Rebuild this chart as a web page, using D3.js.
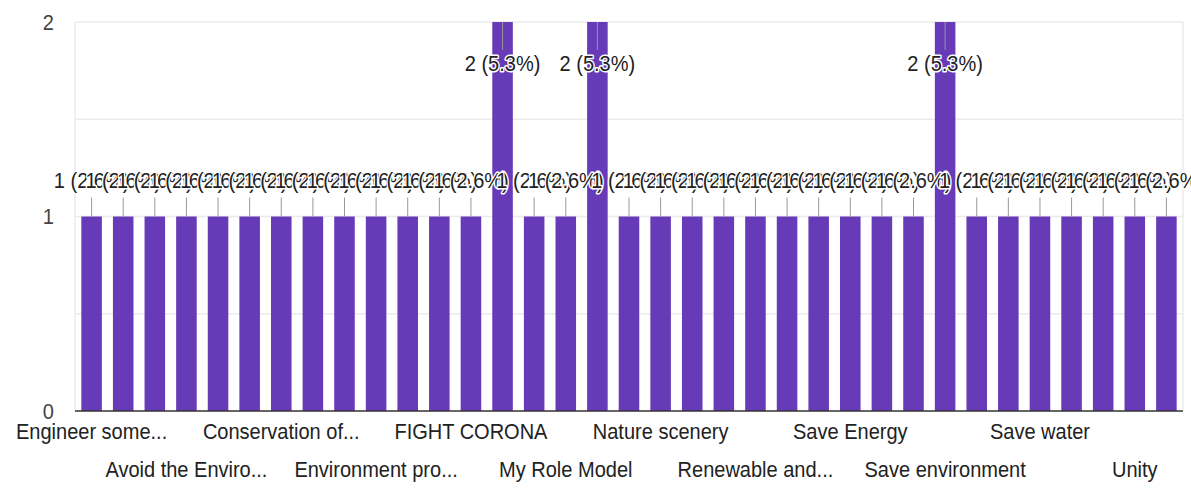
<!DOCTYPE html>
<html>
<head>
<meta charset="utf-8">
<script src="https://cdn.jsdelivr.net/npm/d3@7"></script>
<style>
  body { margin: 0; background: #fff; }
  svg { display: block; font-family: "Liberation Sans", Arial, sans-serif; }
</style>
</head>
<body>
<svg id="chart" width="1191" height="491"></svg>
<script>
// answers, in the order the form lists them. only every third name is printed
// under the axis in the picture, the others can't be read so they get a position name
var categories = [
    "Engineer some...", "Answer 2", "Answer 3",
    "Avoid the Enviro...", "Answer 5", "Answer 6",
    "Conservation of...", "Answer 8", "Answer 9",
    "Environment pro...", "Answer 11", "Answer 12",
    "FIGHT CORONA", "Answer 14", "Answer 15",
    "My Role Model", "Answer 17", "Answer 18",
    "Nature scenery", "Answer 20", "Answer 21",
    "Renewable and...", "Answer 23", "Answer 24",
    "Save Energy", "Answer 26", "Answer 27",
    "Save environment", "Answer 29", "Answer 30",
    "Save water", "Answer 32", "Answer 33",
    "Unity", "Answer 35"
];
var counts = [
    1, 1, 1, 1, 1, 1, 1, 1, 1, 1, 1, 1, 1, 2, 1, 1, 2, 1, 1, 1,
    1, 1, 1, 1, 1, 1, 1, 2, 1, 1, 1, 1, 1, 1, 1
];
var yTicks = [0, 1, 2];
var yGrid = [0.5, 1, 1.5, 2];

var total = d3.sum(counts); // 38 responses

var svg = d3.select("#chart");
// plot area edges (note: "top" would clash with window.top)
var plotLeft = 75, plotRight = 1183, plotTop = 22, plotBottom = 411;
var squash = 0.91; // text in the picture is a bit narrower than plain Arial

var x = d3.scaleBand()
    .domain(categories)
    .range([plotLeft, plotRight])
    .paddingInner(0.35)
    .paddingOuter(0.2);

var y = d3.scaleLinear()
    .domain([0, 2])
    .range([plotBottom, plotTop]);

function addText(g, tx, ty, str, anchor, size, fill) {
    return g.append("text")
        .attr("transform", "translate(" + tx + "," + ty + ") scale(" + squash + ",1)")
        .attr("text-anchor", anchor)
        .attr("font-size", size)
        .attr("fill", fill)
        .text(str);
}

// gridlines + frame
svg.append("g").selectAll("line")
    .data(yGrid)
    .enter().append("line")
    .attr("x1", plotLeft).attr("x2", plotRight)
    .attr("y1", function(d) { return y(d); })
    .attr("y2", function(d) { return y(d); })
    .attr("stroke", "#ebebeb")
    .attr("stroke-width", 1.5);

svg.append("g").selectAll("line")
    .data([plotLeft, plotRight])
    .enter().append("line")
    .attr("x1", function(d) { return d; }).attr("x2", function(d) { return d; })
    .attr("y1", plotTop).attr("y2", plotBottom)
    .attr("stroke", "#ebebeb")
    .attr("stroke-width", 1.5);

// y axis labels
var yAxis = d3.axisLeft(y).tickValues(yTicks).tickSize(0).tickPadding(0)
    .tickFormat(d3.format("d"));
var yg = svg.append("g")
    .attr("transform", "translate(54,0)")
    .call(yAxis);
yg.select(".domain").remove();
yg.selectAll("text")
    .attr("font-family", "Liberation Sans, Arial, sans-serif")
    .attr("font-size", 22)
    .attr("fill", "#444")
    .attr("transform", "scale(" + squash + ",1)");

// bars
svg.append("g").selectAll("rect")
    .data(categories)
    .enter().append("rect")
    .attr("x", function(d) { return x(d); })
    .attr("width", x.bandwidth())
    .attr("y", function(d, i) { return y(counts[i]); })
    .attr("height", function(d, i) { return plotBottom - y(counts[i]); })
    .attr("fill", "#673ab7");

// baseline
svg.append("line")
    .attr("x1", plotLeft).attr("x2", plotRight)
    .attr("y1", y(0)).attr("y2", y(0))
    .attr("stroke", "#333")
    .attr("stroke-width", 1.5);

// annotations: a stem and "n (p%)" label; labels that don't fit go inside the bar
function inside(v) { return y(v) - 60 < plotTop; }

svg.append("g").selectAll("line")
    .data(categories)
    .enter().append("line")
    .attr("x1", function(d) { return x(d) + x.bandwidth() / 2; })
    .attr("x2", function(d) { return x(d) + x.bandwidth() / 2; })
    .attr("y1", function(d, i) { var t = y(counts[i]); return inside(counts[i]) ? t : t - 19; })
    .attr("y2", function(d, i) { var t = y(counts[i]); return inside(counts[i]) ? t + 28 : t; })
    .attr("stroke", "#999")
    .attr("stroke-width", 1);

var annG = svg.append("g");
categories.forEach(function(c, i) {
    var v = counts[i];
    var t = y(v);
    var ty = inside(v) ? t + 49 : t - 29;
    var label = v + " (" + d3.format(".1f")(v / total * 100) + "%)";
    addText(annG, x(c) + x.bandwidth() / 2, ty, label, "middle", 22, "#222")
        .attr("stroke", "#fff")
        .attr("stroke-width", 3)
        .attr("paint-order", "stroke")
        .attr("stroke-linejoin", "round");
});

// category labels, every third one, alternating two rows
var catG = svg.append("g");
categories.forEach(function(c, i) {
    if (i % 3 !== 0) return;
    var row = (i / 3) % 2;
    addText(catG, x(c) + x.bandwidth() / 2, row === 0 ? 439 : 477, c, "middle", 22, "#222");
});
</script>
</body>
</html>
